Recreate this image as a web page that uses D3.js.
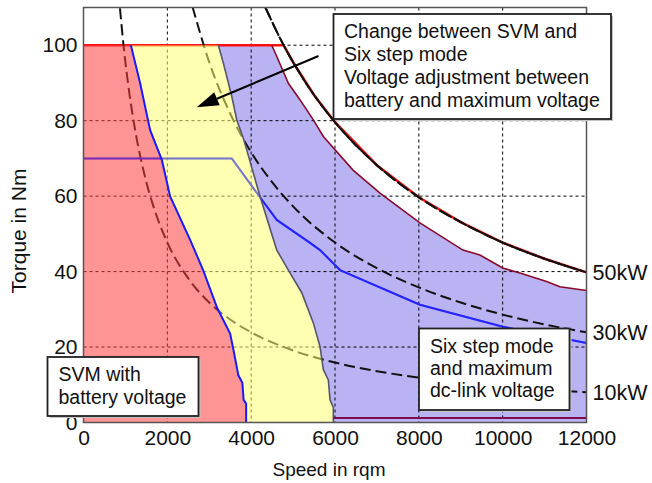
<!DOCTYPE html>
<html>
<head>
<meta charset="utf-8">
<script src="https://cdn.jsdelivr.net/npm/d3@7"></script>
<style>
  body { margin: 0; background: #fff; }
  svg { display: block; }
  text { font-family: "Liberation Sans", Arial, sans-serif; fill: #111; }
</style>
</head>
<body>
<svg width="652" height="483" id="mainsvg"></svg>
<script>
// speed in rpm, torque in Nm
const xTicks = [0, 2000, 4000, 6000, 8000, 10000, 12000];
const yTicks = [0, 20, 40, 60, 80, 100];

// limit of SVM with battery voltage (red / yellow border)
const svmSpeed  = [1130, 1350, 1590, 1869, 2067, 2544, 2854, 3188, 3498, 3577, 3695, 3790, 3820, 3880, 3880];
const svmTorque = [100, 90, 77.5, 69.6, 59.9, 48.4, 40.4, 30.4, 23.6, 19.3, 12.5, 10.5, 6, 5, 0];

// yellow / blue border
const sixSpeed  = [3218, 3338, 3538, 3657, 3815, 3895, 4212, 4611, 4887, 5207, 5483, 5643, 5722, 5841, 5881, 5960, 5960];
const sixTorque = [100, 95.2, 86.4, 80.2, 75.3, 72.2, 59.9, 45.7, 40.4, 34.4, 26.4, 20.1, 14, 11.3, 6, 4, 0];

// upper border of the blue area
const maxSpeed  = [4491, 4611, 4887, 5167, 5483, 5722, 6430, 7073, 8026, 9052, 9457, 10013, 10411, 11047, 11365, 12000];
const maxTorque = [100, 97, 89.9, 85.5, 80.2, 75.8, 66.9, 60.8, 52.9, 45.7, 44.4, 40.9, 39.6, 37.4, 36.0, 35.0];

// 70 Nm curve
const limSpeed  = [0, 3538, 4172, 4611, 5405, 5643, 6120, 8026, 10006, 12000];
const limTorque = [70, 70, 60.3, 53.7, 47.6, 45.7, 40.4, 31.2, 25.4, 21.1];

// outer envelope (red)
const envSpeed  = [0, 4775, 5000, 5500, 6000, 7000, 8000, 9000, 10000, 11000, 12000];
const envTorque = [100, 100, 95.5, 86.8, 79.6, 68.2, 59.7, 53.1, 47.7, 43.4, 39.8];

// constant power curves
const kw10Speed  = [870, 950, 1100, 1250, 1500, 1750, 2000, 2500, 3000, 3500, 4000, 5000, 6000, 7000, 8000, 9000, 10000, 11000, 12000];
const kw10Torque = [109.8, 100.5, 86.8, 76.4, 63.7, 54.6, 47.7, 38.2, 31.8, 27.3, 23.9, 19.1, 15.9, 13.6, 11.9, 10.6, 9.5, 8.7, 8.0];
const kw30Speed  = [2600, 3000, 3500, 4000, 4500, 5000, 6000, 7000, 8000, 9000, 10000, 11000, 12000];
const kw30Torque = [110.2, 95.5, 81.9, 71.6, 63.7, 57.3, 47.7, 40.9, 35.8, 31.8, 28.6, 26.0, 23.9];
const kw50Speed  = [4340, 4775, 5000, 5500, 6000, 7000, 8000, 9000, 10000, 11000, 12000];
const kw50Torque = [110.0, 100.0, 95.5, 86.8, 79.6, 68.2, 59.7, 53.1, 47.7, 43.4, 39.8];
const powerLabels = ["10kW", "30kW", "50kW"];

const svg = d3.select("#mainsvg");
const width = +svg.attr("width");
const height = +svg.attr("height");
const margin = { top: 7.5, right: 65.5, bottom: 60.5, left: 83.5 };
const innerWidth = width - margin.left - margin.right;
const innerHeight = height - margin.top - margin.bottom;

const g = svg.append("g").attr("transform", `translate(${margin.left}, ${margin.top})`);

const x = d3.scaleLinear().domain([0, 12000]).range([0, innerWidth]);
const y = d3.scaleLinear().domain([0, 110]).range([innerHeight, 0]);

svg.append("defs").append("clipPath").attr("id", "plotclip")
  .append("rect").attr("width", innerWidth).attr("height", innerHeight);

const plot = g.append("g").attr("clip-path", "url(#plotclip)");

const svm = d3.zip(svmSpeed, svmTorque);
const six = d3.zip(sixSpeed, sixTorque);
const maxB = d3.zip(maxSpeed, maxTorque);
const lim = d3.zip(limSpeed, limTorque);
const env = d3.zip(envSpeed, envTorque);
const kw = [d3.zip(kw10Speed, kw10Torque), d3.zip(kw30Speed, kw30Torque), d3.zip(kw50Speed, kw50Torque)];

const line = d3.line().x(d => x(d[0])).y(d => y(d[1]));
const smooth = d3.line().curve(d3.curveMonotoneX).x(d => x(d[0])).y(d => y(d[1]));

// regions
const redArea = [[0, 0], [0, 100]].concat(svm);
const yellowArea = svm.concat(six.slice().reverse());
const blueArea = six.concat([[12000, 0]], maxB.slice().reverse());

plot.append("path").attr("d", line(blueArea) + "Z").attr("fill", "#b9b3f3");

// grid
plot.selectAll(".gx").data(xTicks.slice(1, -1)).join("line")
  .attr("x1", d => x(d)).attr("x2", d => x(d)).attr("y1", 0).attr("y2", innerHeight)
  .attr("stroke", "#000").attr("stroke-width", 1).attr("stroke-dasharray", "3,3");
plot.selectAll(".gy").data(yTicks.slice(1)).join("line")
  .attr("x1", 0).attr("x2", innerWidth).attr("y1", d => y(d)).attr("y2", d => y(d))
  .attr("stroke", "#000").attr("stroke-width", 1).attr("stroke-dasharray", "3,3");

plot.append("path").attr("d", line(env)).attr("fill", "none")
  .attr("stroke", "#ff1010").attr("stroke-width", 2.5);

kw.forEach(c => {
  plot.append("path").attr("d", smooth(c)).attr("fill", "none")
    .attr("stroke", "#111").attr("stroke-width", 2).attr("stroke-dasharray", "11,5");
});

plot.append("path").attr("d", line(lim)).attr("fill", "none")
  .attr("stroke", "#2424ff").attr("stroke-width", 2);

// translucent fills over the lines
plot.append("path").attr("d", line(redArea) + "Z").attr("fill", "rgb(255,60,60)").attr("fill-opacity", 0.55);
plot.append("path").attr("d", line(yellowArea) + "Z").attr("fill", "rgb(255,255,115)").attr("fill-opacity", 0.55);

// faint copy of the 70 Nm curve on top
plot.append("path").attr("d", line(lim)).attr("fill", "none")
  .attr("stroke", "#2424ff").attr("stroke-width", 2).attr("stroke-opacity", 0.3);

// borders
plot.append("path").attr("d", line(six)).attr("fill", "none")
  .attr("stroke", "#55556e").attr("stroke-width", 1.6);
plot.append("path").attr("d", line(maxB)).attr("fill", "none")
  .attr("stroke", "#8a0a2c").attr("stroke-width", 1.6);
plot.append("path").attr("d", line([[six[six.length - 1][0], 1.2], [12000, 1.2]])).attr("fill", "none")
  .attr("stroke", "#7a0a4a").attr("stroke-width", 2);
plot.append("path").attr("d", line(svm)).attr("fill", "none")
  .attr("stroke", "#1a1aff").attr("stroke-width", 2);

// 50kW dashed over the red envelope
plot.append("path").attr("d", smooth(kw[2])).attr("fill", "none")
  .attr("stroke", "#111").attr("stroke-width", 2).attr("stroke-dasharray", "14,3");

g.append("rect").attr("width", innerWidth).attr("height", innerHeight)
  .attr("fill", "none").attr("stroke", "#555").attr("stroke-width", 1.5);

// axes
const xAxis = d3.axisBottom(x).tickValues(xTicks).tickSize(0).tickPadding(8).tickFormat(d3.format("d"));
const yAxis = d3.axisLeft(y).tickValues(yTicks).tickSize(0).tickPadding(6);
const xg = g.append("g").attr("transform", `translate(0, ${innerHeight})`).call(xAxis);
const yg = g.append("g").call(yAxis);
[xg, yg].forEach(a => {
  a.select(".domain").remove();
  a.selectAll(".tick text").attr("font-size", 21).attr("fill", "#111")
    .attr("font-family", "Liberation Sans, Arial, sans-serif");
});

svg.append("text").text("Speed in rqm").attr("x", 329).attr("y", 476)
  .attr("text-anchor", "middle").attr("font-size", 19);
svg.append("text").text("Torque in Nm").attr("transform", "translate(26, 231) rotate(-90)")
  .attr("text-anchor", "middle").attr("font-size", 21);

// power labels at line ends
kw.forEach((c, i) => {
  const last = c[c.length - 1];
  g.append("text").text(powerLabels[i])
    .attr("x", x(last[0]) + 6).attr("y", y(last[1])).attr("dy", "0.36em")
    .attr("font-size", 21.5);
});

// annotations
function note(bx, by, bw, bh, lines, tx, ty, step) {
  svg.append("rect").attr("x", bx + 2).attr("y", by + 2).attr("width", bw).attr("height", bh)
    .attr("fill", "#c4c4c4");
  svg.append("rect").attr("x", bx).attr("y", by).attr("width", bw).attr("height", bh)
    .attr("fill", "#fff").attr("stroke", "#222").attr("stroke-width", 1.8);
  lines.forEach((t, i) => {
    svg.append("text").text(t).attr("x", tx).attr("y", ty + i * step).attr("font-size", 19.5);
  });
}

note(333.5, 14, 277.5, 105,
  ["Change between SVM and", "Six step mode", "Voltage adjustment between", "battery and maximum voltage"],
  344, 38, 23);
note(47.5, 357, 151, 59, ["SVM with", "battery voltage"], 58.5, 381, 22.5);
note(419, 328.5, 150.5, 81.5, ["Six step mode", "and maximum", "dc-link voltage"], 430, 353, 21.8);

// arrow
const tail = [318.5, 56], tip = [196.7, 107.3];
const dx = tip[0] - tail[0], dy = tip[1] - tail[1];
const len = Math.hypot(dx, dy);
const ux = dx / len, uy = dy / len;
const base = [tip[0] - 22 * ux, tip[1] - 22 * uy];
svg.append("line").attr("x1", tail[0]).attr("y1", tail[1]).attr("x2", base[0]).attr("y2", base[1])
  .attr("stroke", "#000").attr("stroke-width", 2);
svg.append("path")
  .attr("d", `M${tip[0]},${tip[1]}L${base[0] - 7 * uy},${base[1] + 7 * ux}L${base[0] + 7 * uy},${base[1] - 7 * ux}Z`)
  .attr("fill", "#000");
</script>
</body>
</html>
